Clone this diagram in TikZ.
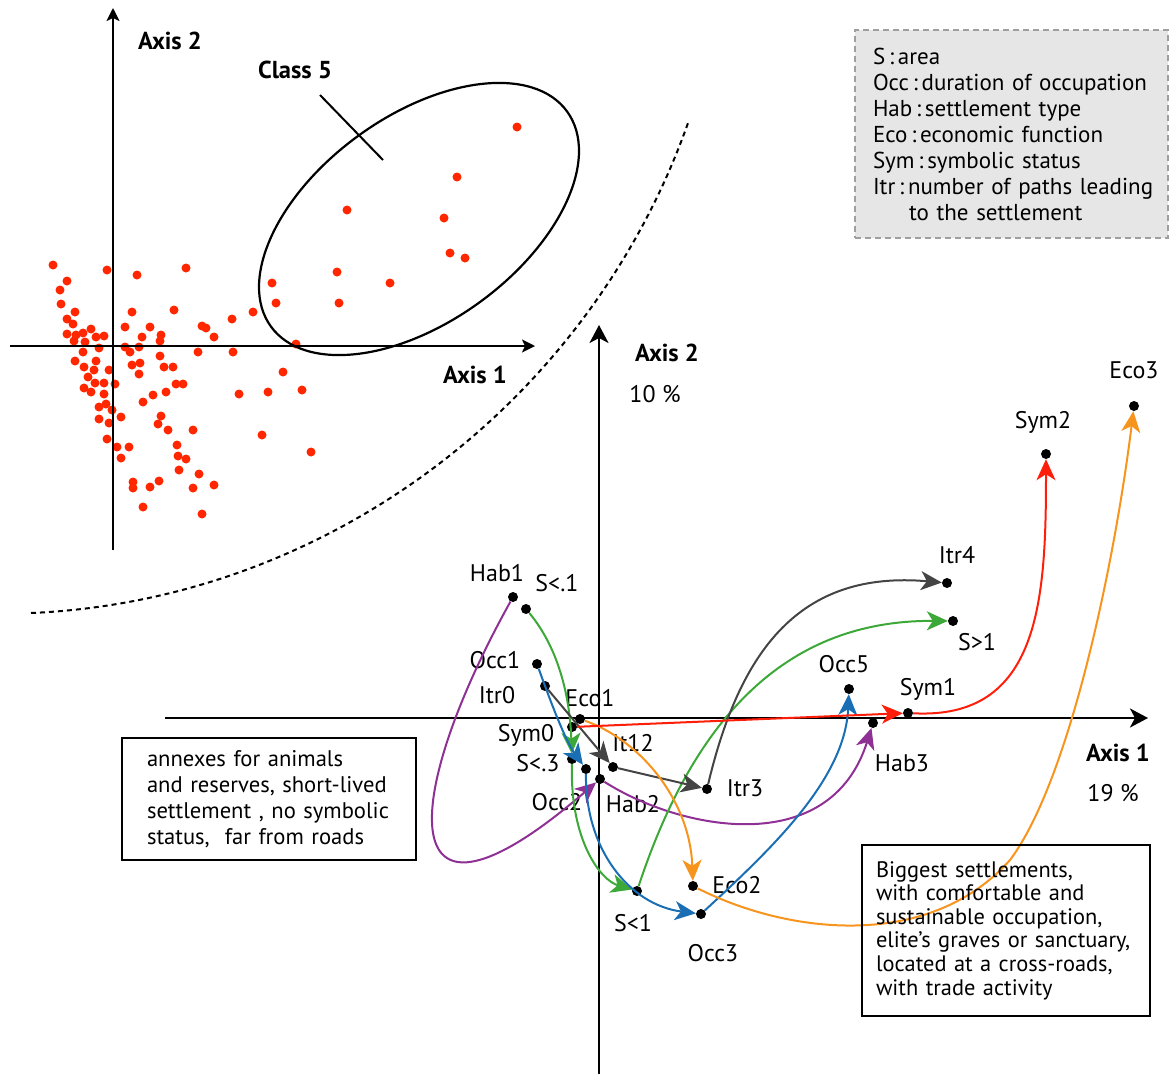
\documentclass[tikz,border=0pt]{standalone}
\usepackage{fontspec}
\setmainfont{PT Sans}
\usepackage{xcolor}
\usepackage{tikz}
\usetikzlibrary{arrows.meta}
\definecolor{dotred}{RGB}{255,38,0}
\definecolor{symred}{RGB}{255,30,10}
\definecolor{sgreen}{RGB}{60,168,55}
\definecolor{occblue}{RGB}{25,110,180}
\definecolor{habpurple}{RGB}{142,48,148}
\definecolor{ecoorange}{RGB}{247,148,29}
\definecolor{itrgray}{RGB}{68,68,68}
\definecolor{keygray}{RGB}{230,230,230}
\tikzset{
  pt/.style={
    circle, fill=black, inner sep=0pt, minimum size=10pt
  },
  lab/.style={
    inner sep=0pt, text height=16pt, text depth=0pt
  },
  axislab/.style={
    lab, font=\fontsize{24.5}{28}\selectfont\bfseries
  },
  trail/.style={
    line width=2pt,
    -{Stealth[length=21pt, width=19pt, inset=6pt]}
  },
  axis/.style={
    line width=2.4pt,
    -{Stealth[length=18pt, width=19pt, inset=5pt]}
  },
  smallaxis/.style={
    line width=2pt,
    -{Stealth[length=13pt, width=13pt, inset=3pt]}
  },
  textbox/.style={
    draw, line width=1.8pt, align=left, inner ysep=0pt
  }
}

\begin{document}
\begin{tikzpicture}[x=1pt, y=-1pt, every node/.style={font=\fontsize{24}{28}\selectfont}]
\useasboundingbox (0,0) rectangle (1170,1074);
\newcommand\XOrig{599}
\newcommand\YOrig{718}

% individuals
\foreach \px/\py in {53/265, 107/270, 137/275, 186/268, 67/281, 60/290, 61/304, 75/312,
  132/312, 174/310, 232/319, 253/312, 272/283, 276/303, 67/319, 73/324, 91/329, 125/327,
  150/327, 202/326, 206/328, 67/334, 76/335, 83/333, 85/342, 96/337, 104/336, 74/341,
  142/337, 161/335, 160/341, 214/337, 99/348, 125/347, 130/352, 139/347, 198/352, 233/352,
  296/344, 83/352, 160/356, 75/361, 96/361, 84/367, 94/370, 109/370, 132/365, 140/363,
  164/367, 173/367, 139/374, 88/377, 283/372, 95/383, 104/383, 115/384, 84/388, 91/392,
  176/384, 183/384, 104/394, 153/395, 166/392, 143/402, 239/394, 268/392, 302/390, 99/407,
  106/404, 112/410, 161/416, 121/417, 99/419, 109/423, 158/424, 168/430, 193/430, 262/435,
  311/452, 107/439, 117/447, 129/447, 177/445, 121/458, 178/456, 186/459, 179/470, 199/474,
  133/482, 133/488, 159/481, 150/487, 193/488, 214/485, 143/507, 202/514,
  517/127, 457/177, 347/210, 444/218, 450/253, 465/258, 337/272, 390/283, 339/303}
  \fill[dotred] (\px,\py) circle (4.5pt);

\coordinate (H0) at (10,346);
\coordinate (H1) at (535,346);
\coordinate (V0) at (113,550);
\coordinate (V1) at (113,8);
\draw[smallaxis] (H0) -- (H1);
\draw[smallaxis] (V0) -- (V1);
\node[axislab] (tAxis2) at (170,41) {Axis 2};
\node[axislab] (tAxis1) at (475,375) {Axis 1};
\node[axislab] (tClass5) at (295,70) {Class 5};
\draw[line width=2.2pt, rotate around={36:(419,219)}] (419,219) ellipse (183pt and 103pt);
\coordinate (c5a) at (320,95);
\coordinate (c5b) at (383,160);
\draw[line width=2pt] (c5a) -- (c5b);
\coordinate (dA) at (31,613);
\coordinate (dB) at (688,123);
\draw[line width=2pt, dash pattern=on 5pt off 4pt] (dA) .. controls (330,600) and (590,400) .. (dB);

% key
\node[draw=gray!75, dash pattern=on 6pt off 4pt, line width=1.8pt, fill=keygray, align=left,
  text width=285pt, inner xsep=14pt, minimum height=208pt,
  font=\fontsize{23}{26}\selectfont] (key) at (1011.5,134)
  {\hspace*{4pt}S\,:\,area\\
   \hspace*{4pt}Occ\,:\,duration of occupation\\
   \hspace*{4pt}Hab\,:\,settlement type\\
   \hspace*{4pt}Eco\,:\,economic function\\
   \hspace*{4pt}Sym\,:\,symbolic status\\
   \hspace*{4pt}Itr\,:\,number of paths leading\\
   \hspace*{40pt}to the settlement};

% factorial plane
\coordinate (X0) at (165,\YOrig);
\coordinate (X1) at (1148,\YOrig);
\coordinate (Y0) at (\XOrig,1074);
\coordinate (Y1) at (\XOrig,325);
\draw[axis] (X0) -- (X1);
\draw[axis] (Y0) -- (Y1);
\node[axislab] (mAxis2) at (667,353) {Axis 2};
\node[lab] (mPct2) at (655,394) {10 \%};
\node[axislab] (mAxis1) at (1118,753) {Axis 1};
\node[lab] (mPct1) at (1113,793) {19 \%};

\node[pt] (Hab1) at (513,597) {};
\node[pt] (Slt01) at (526,609) {};
\node[pt] (Occ1) at (537,664) {};
\node[pt] (Itr0) at (545,686) {};
\node[pt] (Eco1) at (580,719) {};
\node[pt] (Sym0) at (572,727) {};
\node[pt] (Slt03) at (572,759) {};
\node[pt] (Occ2) at (586,769) {};
\node[pt] (Hab2) at (600,779) {};
\node[pt] (It12) at (613,767) {};
\node[pt] (Itr3) at (707,789) {};
\node[pt] (Slt1) at (637,891) {};
\node[pt] (Eco2) at (693,886) {};
\node[pt] (Occ3) at (701,914) {};
\node[pt] (Itr4) at (947,583) {};
\node[pt] (Sgt1) at (953,621) {};
\node[pt] (Occ5) at (849,689) {};
\node[pt] (Sym1) at (908,713) {};
\node[pt] (Hab3) at (873,723) {};
\node[pt] (Sym2) at (1046,454) {};
\node[pt] (Eco3) at (1134,406) {};

\node[lab] (lHab1) at (497,573) {Hab1};
\node[lab] (lSlt01) at (557,583) {S<.1};
\node[lab] (lOcc1) at (495,660) {Occ1};
\node[lab] (lItr0) at (497,695) {Itr0};
\node[lab] (lEco1) at (590,698) {Eco1};
\node[lab] (lSym0) at (526,733) {Sym0};
\node[lab] (lSlt03) at (538,763) {S<.3};
\node[lab] (lOcc2) at (557,802) {Occ2};
\node[lab] (lHab2) at (633,804) {Hab2};
\node[lab] (lIt12) at (633,743) {It12};
\node[lab] (lItr3) at (745,788) {Itr3};
\node[lab] (lSlt1) at (633,923) {S<1};
\node[lab] (lEco2) at (737,885) {Eco2};
\node[lab] (lOcc3) at (713,953) {Occ3};
\node[lab] (lItr4) at (957,555) {Itr4};
\node[lab] (lSgt1) at (977,642) {S>1};
\node[lab] (lOcc5) at (844,664) {Occ5};
\node[lab] (lSym1) at (928,687) {Sym1};
\node[lab] (lHab3) at (902,763) {Hab3};
\node[lab] (lSym2) at (1043,420) {Sym2};
\node[lab] (lEco3) at (1134,370) {Eco3};

% trajectories
\draw[trail, habpurple] (Hab1) .. controls (400,800) and (390,960) .. (Hab2);
\draw[trail, habpurple] (Hab2) .. controls (680,830) and (830,860) .. (Hab3);
\draw[trail, sgreen] (Slt01) .. controls (560,650) and (570,700) .. (Slt03);
\draw[trail, sgreen] (Slt03) .. controls (570,840) and (600,880) .. (Slt1);
\draw[trail, sgreen] (Slt1) .. controls (700,700) and (800,620) .. (Sgt1);
\draw[trail, occblue] (Occ1) .. controls (550,700) and (565,740) .. (Occ2);
\draw[trail, occblue] (Occ2) .. controls (585,850) and (630,905) .. (Occ3);
\draw[trail, occblue] (Occ3) .. controls (770,850) and (845,780) .. (Occ5);
\draw[trail, itrgray] (Itr0) -- (It12);
\draw[trail, itrgray] (It12) -- (Itr3);
\draw[trail, itrgray] (Itr3) .. controls (740,650) and (800,570) .. (Itr4);
\draw[trail, ecoorange] (Eco1) .. controls (640,740) and (690,800) .. (Eco2);
\draw[trail, ecoorange] (Eco2) .. controls (790,935) and (930,950) .. (1010,860)
                               .. controls (1070,780) and (1115,560) .. (Eco3);
\draw[trail, symred] (Sym0) -- (Sym1);
\draw[trail, symred] (Sym1) .. controls (1040,720) and (1046,600) .. (Sym2);

% comments
\node[textbox, text width=244pt, inner xsep=25pt, minimum height=122pt,
  font=\fontsize{22.6}{26}\selectfont] (annex) at (269,799)
  {annexes for animals\\
   and reserves, short-lived\\
   settlement , no symbolic\\
   status,\ \ far from roads};
\node[textbox, text width=260pt, inner xsep=14pt, minimum height=171pt,
  font=\fontsize{22.4}{23.6}\selectfont] (big) at (1006,930.5)
  {Biggest settlements,\\
   with comfortable and\\
   sustainable occupation,\\
   elite's graves or sanctuary,\\
   located at a cross-roads,\\
   with trade activity};
\end{tikzpicture}
\end{document}
